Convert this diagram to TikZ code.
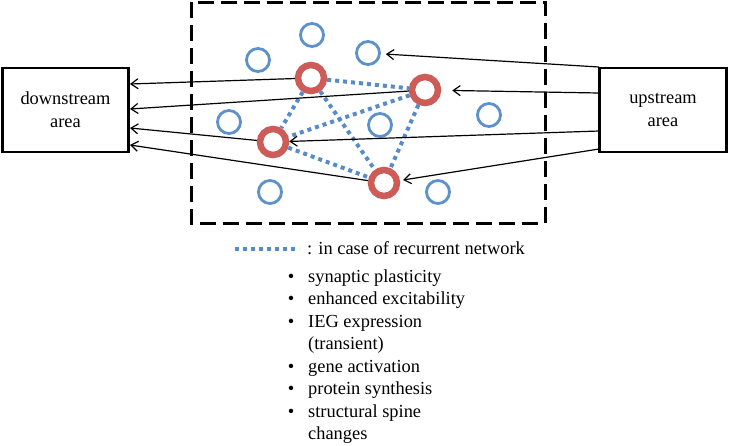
\documentclass[tikz,border=0pt]{standalone}
\usepackage{fontspec}
\setmainfont{Liberation Serif}
\usetikzlibrary{arrows.meta}
\definecolor{ringred}{RGB}{205,92,88}
\definecolor{cellblue}{RGB}{92,145,203}
\definecolor{dotblue}{RGB}{88,140,200}
\tikzset{
  areabox/.style={draw=black, line width=2.6pt, minimum width=126pt, minimum height=84pt, align=center, inner sep=0pt, font=\fontsize{18.4}{23}\selectfont},
  cell/.style={circle, draw=cellblue, line width=2.8pt, minimum size=23pt, inner sep=0pt},
  engram/.style={circle, draw=ringred, line width=6.5pt, minimum size=26pt, inner sep=0pt},
  link/.style={draw=dotblue, line width=4pt, dash pattern=on 4pt off 4pt},
  proj/.style={draw=black, line width=1.2pt, -{Straight Barb[length=7pt,width=10pt,line width=1.2pt]}},
  region/.style={draw=black, line width=3pt, dash pattern=on 16pt off 7pt},
  txt/.style={inner sep=0pt, anchor=base west, font=\fontsize{18.4}{22.5}\selectfont},
  bul/.style={inner sep=0pt, anchor=base, font=\fontsize{18.4}{22.5}\selectfont}
}
\begin{document}
\begin{tikzpicture}[x=1pt,y=-1pt]
\useasboundingbox (0,0) rectangle (729,445);
% dashed region
\draw[region] (191,2) rectangle (545,223);
% areas
\node[areabox] (ds) at (65.5,110) {downstream\\area};
\node[areabox, minimum width=127pt] (us) at (663,110) {upstream\\area};
% blue cells
\node[cell] (b1) at (312,35) {};
\node[cell] (b2) at (258,60) {};
\node[cell] (b3) at (368,53) {};
\node[cell] (b4) at (229,122) {};
\node[cell] (b5) at (380,125) {};
\node[cell] (b6) at (489,115) {};
\node[cell] (b7) at (270,192) {};
\node[cell] (b8) at (438,192) {};
% engram cells
\node[engram] (A) at (311,78) {};
\node[engram] (B) at (425,90) {};
\node[engram] (C) at (273,142) {};
\node[engram] (D) at (384,183) {};
% recurrent links
\draw[link] (A) -- (B);
\draw[link] (A) -- (C);
\draw[link] (A) -- (D);
\draw[link] (B) -- (C);
\draw[link] (B) -- (D);
\draw[link] (C) -- (D);
% coordinates on area edges
\coordinate (d1) at (130,84);
\coordinate (d2) at (130,109);
\coordinate (d3) at (130,128);
\coordinate (d4) at (130,145);
\coordinate (u1) at (599,67);
\coordinate (u2) at (599,93);
\coordinate (u3) at (599,131);
\coordinate (u4) at (599,149);
% outputs
\draw[proj] (A) -- (d1);
\draw[proj] (B) -- (d2);
\draw[proj] (C) -- (d3);
\draw[proj] (D) -- (d4);
% inputs
\draw[proj, shorten >=5pt] (u1) -- (b3);
\draw[proj, shorten >=11pt] (u2) -- (B);
\draw[proj, shorten >=0pt] (u3) -- (C);
\draw[proj, shorten >=3pt] (u4) -- (D);
% legend
\coordinate (l1) at (235,249);
\coordinate (l2) at (299,249);
\draw[link] (l1) -- (l2);
\node[txt] (leg) at (307,254) {: in case of recurrent network};
% list
\node[bul] (p1) at (291,282) {\textbullet};
\node[txt] (t1) at (308,282) {synaptic plasticity};
\node[bul] (p2) at (291,304.5) {\textbullet};
\node[txt] (t2) at (308,304.5) {enhanced excitability};
\node[bul] (p3) at (291,327) {\textbullet};
\node[txt] (t3) at (308,327) {IEG expression};
\node[txt] (t3b) at (308,349.5) {(transient)};
\node[bul] (p4) at (291,372) {\textbullet};
\node[txt] (t4) at (308,372) {gene activation};
\node[bul] (p5) at (291,394.5) {\textbullet};
\node[txt] (t5) at (308,394.5) {protein synthesis};
\node[bul] (p6) at (291,417) {\textbullet};
\node[txt] (t6) at (308,417) {structural spine};
\node[txt] (t6b) at (308,439.5) {changes};
\end{tikzpicture}
\end{document}
